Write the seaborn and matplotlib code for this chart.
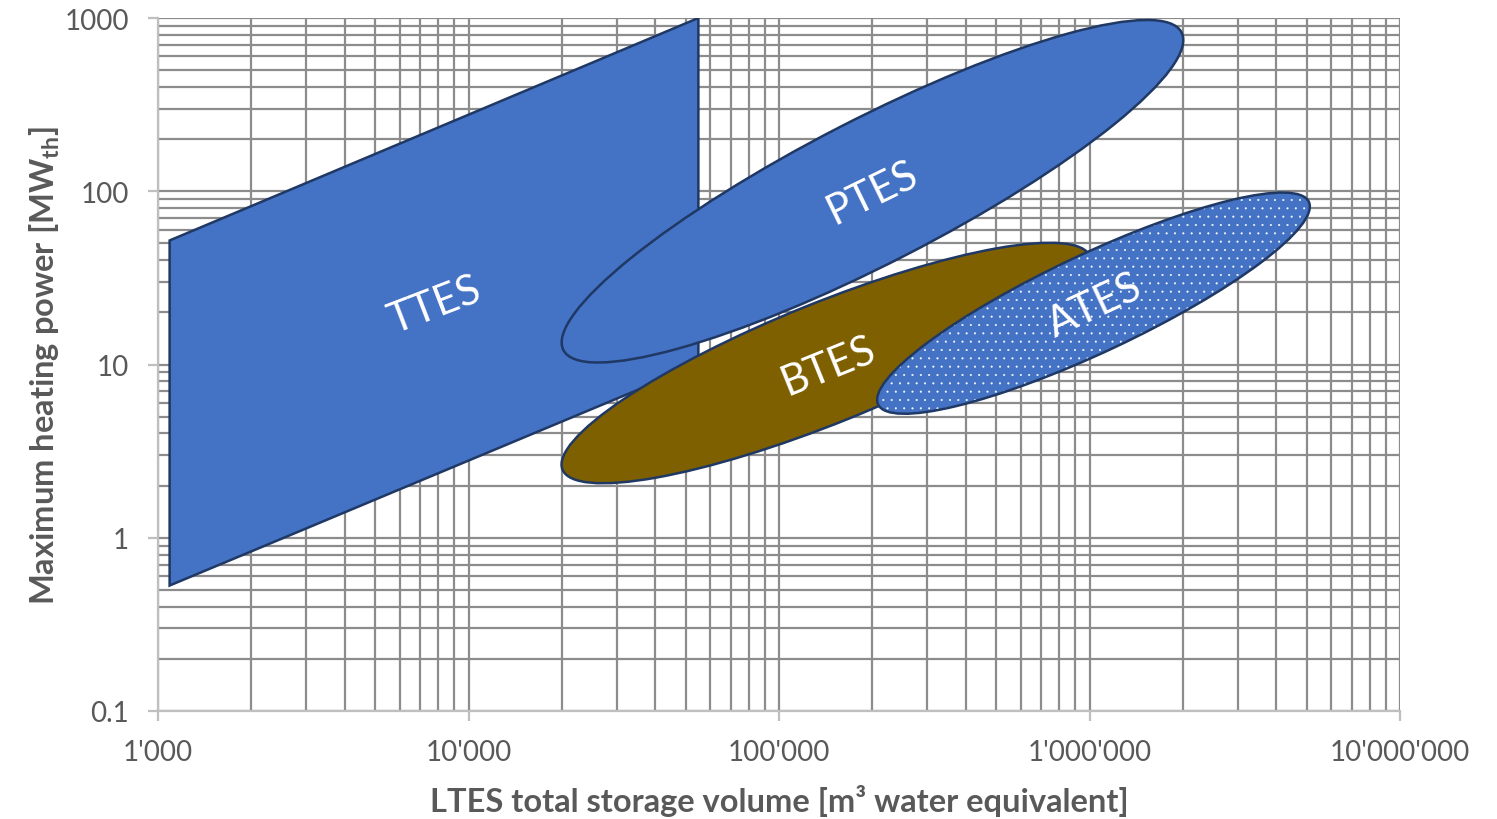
import numpy as np
import pandas as pd
import seaborn as sns
import matplotlib.pyplot as plt
from matplotlib.patches import Ellipse
from matplotlib.transforms import ScaledTranslation
from matplotlib.ticker import LogLocator, NullFormatter

# TTES region: corners of the parallelogram (volume m3, power MW)
ttes_volume = [1090, 1090, 55000, 55000]
ttes_power = [0.53, 52, 1000, 10]

# elliptic regions: centre (data), size in inches on the page, tilt in degrees
ell_names = ['PTES', 'BTES', 'ATES']
ell_volume = [2.0e5, 1.42e5, 1.03e6]
ell_power = [100, 10.2, 22.6]
ell_width = [6.95, 5.69, 4.76]
ell_height = [1.44, 1.20, 0.98]
ell_angle = [27.2, 22.0, 25.2]
ell_color = ['#4472C4', '#7F6000', '#4472C4']
ell_hatch = [None, None, '..']

# labels
label_text = ['TTES', 'PTES', 'BTES', 'ATES']
label_volume = [7800, 2.0e5, 1.44e5, 1.04e6]
label_power = [22.3, 99, 9.9, 22]
label_rot = [21, 26, 22, 25]

x_ticks = [1e3, 1e4, 1e5, 1e6, 1e7]
y_ticks = [0.1, 1, 10, 100, 1000]
y_ticklabels = ['0.1', '1', '10', '100', '1000']

sns.set_theme(style='white')
plt.rcParams['font.family'] = ['Lato', 'DejaVu Sans']
plt.rcParams['hatch.linewidth'] = 0.25

edge = '#1F3864'
grey_txt = '#595959'

fig = plt.figure(figsize=(14.97, 8.20), dpi=100)
ax = fig.add_axes([158 / 1497, 1 - 712 / 820, 1242 / 1497, 693 / 820])
ax.set_xscale('log')
ax.set_yscale('log')
ax.set_xlim(1e3, 1e7)
ax.set_ylim(0.1, 1000)

ax.xaxis.set_minor_locator(LogLocator(base=10, subs=np.arange(2, 10)))
ax.yaxis.set_minor_locator(LogLocator(base=10, subs=np.arange(2, 10)))
ax.xaxis.set_minor_formatter(NullFormatter())
ax.yaxis.set_minor_formatter(NullFormatter())
ax.grid(which='both', color='#8C8C8C', linewidth=1.6)
ax.set_axisbelow(True)

# TTES parallelogram
df_ttes = pd.DataFrame({'volume': ttes_volume, 'power': ttes_power})
ax.fill(df_ttes['volume'], df_ttes['power'], facecolor='#4472C4',
        edgecolor=edge, linewidth=1.8, zorder=2)

# ellipses
for i, name in enumerate(ell_names):
    tr = fig.dpi_scale_trans + ScaledTranslation(ell_volume[i], ell_power[i], ax.transData)
    if ell_hatch[i]:
        ax.add_patch(Ellipse((0, 0), ell_width[i], ell_height[i], angle=ell_angle[i],
                             transform=tr, facecolor=ell_color[i], edgecolor='white',
                             hatch=ell_hatch[i], linewidth=0, zorder=3 + i))
        ax.add_patch(Ellipse((0, 0), ell_width[i], ell_height[i], angle=ell_angle[i],
                             transform=tr, facecolor='none', edgecolor=edge,
                             linewidth=1.8, zorder=3 + i))
    else:
        ax.add_patch(Ellipse((0, 0), ell_width[i], ell_height[i], angle=ell_angle[i],
                             transform=tr, facecolor=ell_color[i], edgecolor=edge,
                             linewidth=1.8, zorder=3 + i))

for t, xv, yv, r in zip(label_text, label_volume, label_power, label_rot):
    ax.text(xv, yv, t, color='white', fontsize=30, rotation=r,
            ha='center', va='center', rotation_mode='anchor', zorder=10)

ax.set_xlim(1e3, 1e7)
ax.set_ylim(0.1, 1000)
ax.set_xticks(x_ticks)
ax.set_xticklabels([f"{v:,.0f}".replace(',', "'") for v in x_ticks])
ax.set_yticks(y_ticks)
ax.set_yticklabels(y_ticklabels)

for s in ['top', 'right']:
    ax.spines[s].set_visible(False)
for s in ['left', 'bottom']:
    ax.spines[s].set_color('#BFBFBF')
    ax.spines[s].set_linewidth(1.6)

ax.tick_params(which='major', direction='out', length=7, width=1.6,
               color='#BFBFBF', labelsize=20, labelcolor=grey_txt)
ax.tick_params(axis='x', which='major', pad=13, bottom=True)
ax.tick_params(axis='y', which='major', pad=14, left=True)
ax.tick_params(which='minor', length=0)

ax.set_xlabel('LTES total storage volume [m³ water equivalent]',
              fontsize=23.5, fontweight='bold', color=grey_txt, labelpad=14)
ax.set_ylabel('Maximum heating power [MW$_{\\mathregular{th}}$]',
              fontsize=23.5, fontweight='bold', color=grey_txt, labelpad=2)

fig.savefig('out.png', dpi=100)
